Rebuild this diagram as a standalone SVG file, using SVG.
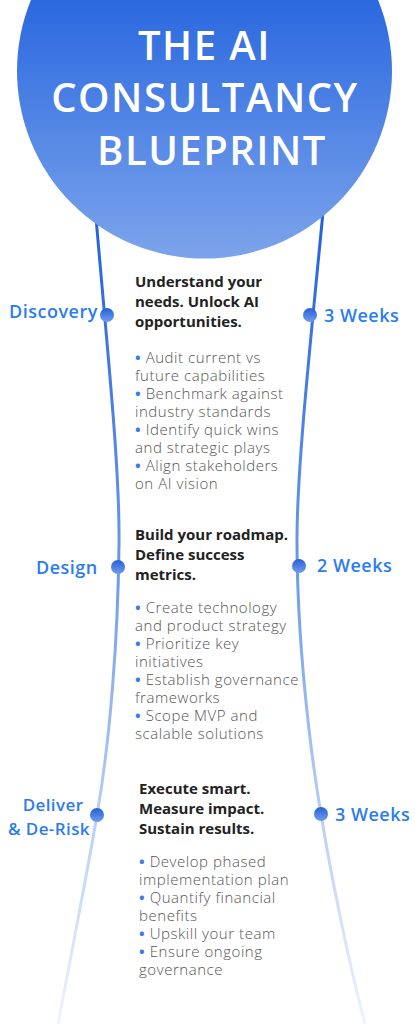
<svg xmlns="http://www.w3.org/2000/svg" width="415" height="1024" viewBox="0 0 415 1024">
<defs>
<linearGradient id="circ" x1="0" y1="-116" x2="0" y2="258" gradientUnits="userSpaceOnUse">
<stop offset="0.3" stop-color="#2a68df"/>
<stop offset="1" stop-color="#7ca4eb"/>
</linearGradient>
<linearGradient id="line" x1="0" y1="200" x2="0" y2="1024" gradientUnits="userSpaceOnUse">
<stop offset="0" stop-color="#1f5fdc"/>
<stop offset="0.45" stop-color="#6e9be8"/>
<stop offset="0.75" stop-color="#b9cff5"/>
<stop offset="1" stop-color="#eef3fd"/>
</linearGradient>
<linearGradient id="dot" x1="0" y1="0" x2="0" y2="1">
<stop offset="0" stop-color="#2660d6"/>
<stop offset="1" stop-color="#6f9cee"/>
</linearGradient>
<style>
.title{font-family:"Open Sans","DejaVu Sans",sans-serif;font-size:40px;font-weight:600;fill:#fff;text-anchor:middle;letter-spacing:1.5px;}
.lbl{font-family:"Open Sans","DejaVu Sans",sans-serif;font-size:18px;font-weight:600;fill:#2b7cf1;letter-spacing:0.5px;}
.lbl2{font-family:"Open Sans","DejaVu Sans",sans-serif;font-size:17px;font-weight:600;fill:#2b7cf1;letter-spacing:0.4px;text-anchor:middle;}
.head{font-family:"Open Sans","DejaVu Sans",sans-serif;font-size:15px;font-weight:700;fill:#222;}
.body{font-family:"Open Sans","DejaVu Sans",sans-serif;font-size:15px;font-weight:300;fill:#555;letter-spacing:0.55px;}
.b{fill:#3a7be8;font-weight:700;}
.conn{fill:none;stroke:url(#line);stroke-width:3;}
.dot{fill:url(#dot);}
</style>
</defs>
<g id="connectors">
<path class="conn" d="M 92 170 C 105 330, 120 460, 119 545 C 118 640, 110 740, 97 815 C 86 880, 70 960, 58 1024"/>
<path class="conn" d="M 327 170 C 313 320, 297 460, 297 540 C 297 640, 310 750, 321 814 C 330 870, 348 960, 365 1024"/>
</g>
<g id="header">
<circle cx="204.5" cy="71" r="187.5" fill="url(#circ)"/>
<text class="title" x="204.5" y="60">THE AI</text>
<text class="title" x="205" y="112">CONSULTANCY</text>
<text class="title" x="212" y="165">BLUEPRINT</text>
</g>
<g id="discovery">
<circle class="dot" cx="107" cy="315" r="7"/>
<circle class="dot" cx="310" cy="315" r="7"/>
<text class="lbl" x="9" y="318">Discovery</text>
<text class="lbl" x="324" y="322">3 Weeks</text>
<text class="head" x="135" y="287">Understand your</text>
<text class="head" x="135" y="307">needs. Unlock AI</text>
<text class="head" x="135" y="327">opportunities.</text>
<text class="body" x="135" y="363"><tspan class="b">•</tspan> Audit current vs</text>
<text class="body" x="135" y="381">future capabilities</text>
<text class="body" x="135" y="399"><tspan class="b">•</tspan> Benchmark against</text>
<text class="body" x="135" y="417">industry standards</text>
<text class="body" x="135" y="435"><tspan class="b">•</tspan> Identify quick wins</text>
<text class="body" x="135" y="453">and strategic plays</text>
<text class="body" x="135" y="471"><tspan class="b">•</tspan> Align stakeholders</text>
<text class="body" x="135" y="489">on AI vision</text>
</g>
<g id="design">
<circle class="dot" cx="118" cy="567" r="7"/>
<circle class="dot" cx="299" cy="566" r="7"/>
<text class="lbl" x="36" y="574">Design</text>
<text class="lbl" x="317" y="572">2 Weeks</text>
<text class="head" x="135" y="540">Build your roadmap.</text>
<text class="head" x="135" y="560">Define success</text>
<text class="head" x="135" y="580">metrics.</text>
<text class="body" x="135" y="613"><tspan class="b">•</tspan> Create technology</text>
<text class="body" x="135" y="631">and product strategy</text>
<text class="body" x="135" y="649"><tspan class="b">•</tspan> Prioritize key</text>
<text class="body" x="135" y="667">initiatives</text>
<text class="body" x="135" y="685"><tspan class="b">•</tspan> Establish governance</text>
<text class="body" x="135" y="703">frameworks</text>
<text class="body" x="135" y="721"><tspan class="b">•</tspan> Scope MVP and</text>
<text class="body" x="135" y="739">scalable solutions</text>
</g>
<g id="deliver">
<circle class="dot" cx="97" cy="815" r="7"/>
<circle class="dot" cx="321" cy="814" r="7"/>
<text class="lbl2" x="53" y="811">Deliver</text>
<text class="lbl2" x="49" y="835">&amp; De-Risk</text>
<text class="lbl" x="335" y="821">3 Weeks</text>
<text class="head" x="139" y="794">Execute smart.</text>
<text class="head" x="139" y="814">Measure impact.</text>
<text class="head" x="139" y="834">Sustain results.</text>
<text class="body" x="139" y="867"><tspan class="b">•</tspan> Develop phased</text>
<text class="body" x="139" y="885">implementation plan</text>
<text class="body" x="139" y="903"><tspan class="b">•</tspan> Quantify financial</text>
<text class="body" x="139" y="921">benefits</text>
<text class="body" x="139" y="939"><tspan class="b">•</tspan> Upskill your team</text>
<text class="body" x="139" y="957"><tspan class="b">•</tspan> Ensure ongoing</text>
<text class="body" x="139" y="975">governance</text>
</g>
</svg>
